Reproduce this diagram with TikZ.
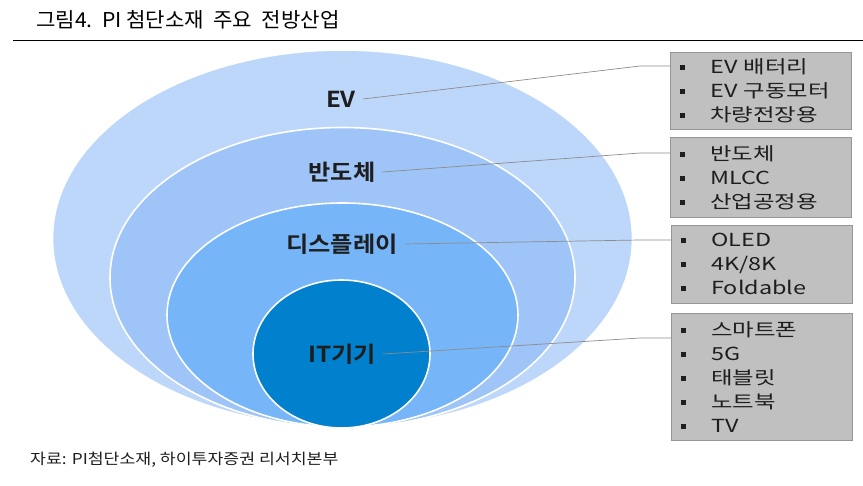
\documentclass[tikz,border=0pt]{standalone}
\usepackage{fontspec}
\usetikzlibrary{shapes.geometric,calc}
\setmainfont{Noto Sans CJK KR}
\newfontfamily\titlefont[FakeStretch=1.03]{Noto Sans CJK KR}
\newfontfamily\lblfont[FakeStretch=1.1]{Noto Sans CJK KR Bold}
\newfontfamily\boxfont[FakeStretch=1.3]{Noto Sans CJK KR}
\newfontfamily\footfont[FakeStretch=1.15]{Noto Sans CJK KR}
\definecolor{c1}{RGB}{189,215,250}
\definecolor{c2}{RGB}{158,196,248}
\definecolor{c3}{RGB}{117,181,248}
\definecolor{c4}{RGB}{0,128,205}
\definecolor{boxgray}{RGB}{192,192,192}
\definecolor{boxedge}{RGB}{150,150,150}
\definecolor{leader}{RGB}{140,140,140}
\definecolor{txt}{RGB}{30,30,30}
\newcommand\bul{\makebox[30pt][l]{\rule[3.5pt]{5pt}{5pt}}}
\tikzset{
  ring/.style={ellipse, draw=white, line width=1.6pt, inner sep=0pt},
  lbl/.style={font=\lblfont\fontsize{22}{24}\selectfont, text=txt, inner xsep=7pt},
  infobox/.style={rectangle, draw=boxedge, fill=boxgray, line width=0.8pt, anchor=north west,
    minimum width=181pt, text width=161pt, inner xsep=10pt, inner ysep=0pt, align=left,
    font=\boxfont\fontsize{18}{24}\selectfont, text=txt},
  lead/.style={draw=leader, line width=0.7pt}
}
\begin{document}
\begin{tikzpicture}[x=1pt,y=-1pt]
\useasboundingbox (0,0) rectangle (863,486);
% title
\node[anchor=west, font=\titlefont\fontsize{20.5}{22}\selectfont, text=black, inner sep=0pt] (title) at (36,20) {그림4.\ \ PI 첨단소재\ \ 주요\ \ 전방산업};
\draw[line width=0.9pt] (13,40) -- (863,40);
% ellipses
\node[ring, fill=c1, minimum width=580pt, minimum height=377pt] (e1) at (342.5,238.5) {};
\node[ring, fill=c2, minimum width=465pt, minimum height=300pt] (e2) at (342.5,277.5) {};
\node[ring, fill=c3, minimum width=351pt, minimum height=224pt] (e3) at (342.5,315) {};
\node[ring, fill=c4, minimum width=177pt, minimum height=148pt] (e4) at (341.5,354) {};
% labels
\node[lbl] (lev) at (341,99) {EV};
\node[lbl] (lsemi) at (342,172) {반도체};
\node[lbl] (ldisp) at (342,244) {디스플레이};
\node[lbl] (lit) at (342,354) {IT기기};
% boxes
\node[infobox, minimum height=77pt] (b1) at (670,52) {\bul EV 배터리\\\bul EV 구동모터\\\bul 차량전장용};
\node[infobox, minimum height=80pt] (b2) at (670,137) {\bul 반도체\\\bul MLCC\\\bul 산업공정용};
\node[infobox, minimum height=78pt] (b3) at (671,225) {\bul OLED\\\bul 4K/8K\\\bul Foldable};
\node[infobox, minimum height=127pt] (b4) at (671,313) {\bul 스마트폰\\\bul 5G\\\bul 태블릿\\\bul 노트북\\\bul TV};
% leader lines
\coordinate (k1) at (640,66);
\coordinate (k2) at (640,153);
\coordinate (k3) at (640,240);
\coordinate (k4) at (640,338);
\draw[lead] (lev.east) -- (k1) -- (b1.west |- k1);
\draw[lead] (lsemi.east) -- (k2) -- (b2.west |- k2);
\draw[lead] (ldisp.east) -- (k3) -- (b3.west |- k3);
\draw[lead] (lit.east) -- (k4) -- (b4.west |- k4);
% footer
\node[anchor=west, font=\footfont\fontsize{15}{17}\selectfont, text=txt, inner sep=0pt] (src) at (30,460) {자료: PI첨단소재, 하이투자증권 리서치본부};
\end{tikzpicture}
\end{document}
